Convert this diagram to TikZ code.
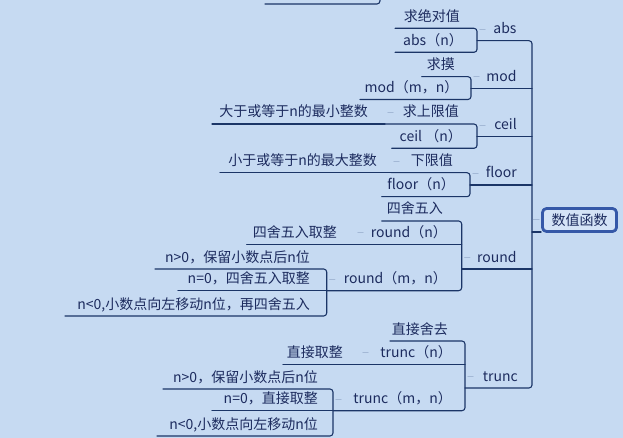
\documentclass[tikz,border=0pt]{standalone}
\usepackage{fontspec}
\setmainfont{Noto Sans CJK SC}
\definecolor{bgc}{HTML}{C6DAF2}
\definecolor{linec}{HTML}{1B3567}
\definecolor{textc}{HTML}{1C2B5E}
\definecolor{markc}{HTML}{A3B8D6}
\definecolor{rootc}{HTML}{3558A8}
\definecolor{rootf}{HTML}{D4E3F6}
\tikzset{
  ln/.style={draw=linec,line width=1.1pt,rounded corners=3pt},
  txt/.style={text=textc,inner sep=0pt,anchor=base east},
  mk/.style={draw=markc,line width=1.3pt},
  rootbox/.style={draw=rootc,fill=rootf,line width=2.8pt,rounded corners=4pt,text=textc,
    minimum width=74pt,minimum height=23pt,inner sep=0pt}
}
\begin{document}
\begin{tikzpicture}[x=1pt,y=-1pt,line join=round,line cap=round,font=\fontsize{14}{16}\selectfont]
		\fill[bgc] (0,0) rectangle (623,438);
		\useasboundingbox (0,0) rectangle (623,438);
		% name, left x, right x, line y, text right x, text
		\def\topic#1#2#3#4#5#6{%
		\coordinate (#1-l) at (#2,#4);
		\coordinate (#1-r) at (#3,#4);
		\node[txt] (#1) at (#5,#4-7) {#6};}
		% cut-off topic at the top
		\coordinate (top-l) at (265,4);
		\coordinate (top-r) at (380,4);
		\coordinate (top-u) at (380,-8);
		\draw[ln] (top-l) -- (top-r) -- (top-u);
		% abs
		\topic{jueduizhi}{395}{477}{28.3}{460}{求绝对值}
		\topic{absn}{395}{477}{52.3}{463}{abs（n）}
		\topic{abs}{477}{532}{40.7}{516.7}{abs}
		% mod
		\topic{qiumo}{421.7}{471}{76.7}{455}{求摸}
		\topic{modmn}{360}{471}{99.5}{458.5}{mod（m，n）}
		\topic{mod}{471}{532}{88.3}{516.7}{mod}
		% ceil
		\topic{dayu}{212}{385}{124}{368}{大于或等于n的最小整数}
		\topic{qiushang}{385}{477}{124}{459}{求上限值}
		\topic{ceiln}{391.7}{477}{148.3}{462}{ceil （n）}
		\topic{ceil}{477}{532}{136.7}{517}{ceil}
		% floor
		\topic{xiaoyu}{220}{391}{172.7}{377}{小于或等于n的最大整数}
		\topic{xiaxian}{391}{470}{172.7}{453}{下限值}
		\topic{floorn}{381.7}{470}{196.7}{455}{floor（n）}
		\topic{floor}{470}{532}{185}{517}{floor}
		% round
		\topic{sishe}{381.7}{461.7}{221}{443}{四舍五入}
		\topic{quzheng}{246.7}{355}{244.3}{337}{四舍五入取整}
		\topic{roundn}{355}{461.7}{244.3}{447}{round（n）}
		\topic{rgt}{155}{326.7}{269}{310}{n>0，保留小数点后n位}
		\topic{req}{178}{326.7}{290.7}{310}{n=0，四舍五入取整}
		\topic{rlt}{65}{326.7}{316}{310}{n<0,小数点向左移动n位，再四舍五入}
		\topic{roundmn}{326.7}{461.7}{290.7}{447}{round（m，n）}
		\topic{round}{461.7}{532}{269}{516.7}{round}
		% trunc
		\topic{shequ}{390}{465}{341}{448}{直接舍去}
		\topic{zhijie}{283}{360}{364.3}{343}{直接取整}
		\topic{truncn}{360}{465}{364.3}{452}{trunc（n）}
		\topic{tgt}{163}{333}{389}{318}{n>0，保留小数点后n位}
		\topic{teq}{212}{333}{410.7}{318}{n=0，直接取整}
		\topic{tlt}{157}{333}{436}{318}{n<0,小数点向左移动n位}
		\topic{truncmn}{333}{465}{410.7}{452}{trunc（m，n）}
		\topic{trunc}{465}{532}{388}{518}{trunc}
		% underlines and brackets
		\draw[ln] (abs-l) -- (abs-r) -- (trunc-r) -- (trunc-l);
		\draw[ln] (jueduizhi-l) -- (jueduizhi-r) -- (absn-r) -- (absn-l);
		\draw[ln] (qiumo-l) -- (qiumo-r) -- (modmn-r) -- (modmn-l);
		\draw[ln] (mod-l) -- (mod-r);
		\draw[ln] (dayu-l) -- (dayu-r);
		\draw[ln] (qiushang-l) -- (qiushang-r) -- (ceiln-r) -- (ceiln-l);
		\draw[ln] (ceil-l) -- (ceil-r);
		\draw[ln] (xiaoyu-l) -- (xiaoyu-r);
		\draw[ln] (xiaxian-l) -- (xiaxian-r) -- (floorn-r) -- (floorn-l);
		\draw[ln] (floor-l) -- (floor-r);
		\draw[ln] (sishe-l) -- (sishe-r) -- (roundmn-r) -- (roundmn-l);
		\draw[ln] (quzheng-l) -- (quzheng-r);
		\draw[ln] (roundn-l) -- (roundn-r);
		\draw[ln] (rgt-l) -- (rgt-r) -- (rlt-r) -- (rlt-l);
		\draw[ln] (req-l) -- (req-r);
		\draw[ln] (round-l) -- (round-r);
		\draw[ln] (shequ-l) -- (shequ-r) -- (truncmn-r) -- (truncmn-l);
		\draw[ln] (zhijie-l) -- (zhijie-r);
		\draw[ln] (truncn-l) -- (truncn-r);
		\draw[ln] (tgt-l) -- (tgt-r) -- (tlt-r) -- (tlt-l);
		\draw[ln] (teq-l) -- (teq-r);
		% collapse marks
		\foreach \n in {abs,mod,ceil,floor,round,trunc,qiushang,xiaxian,roundn,roundmn,truncn,truncmn}
		\draw[mk] ([shift={(3,-11.5)}]\n-l) -- ++(5,0);
		% central topic
		\coordinate (root-in) at (532,232);
		\node[rootbox] (root) at (579.5,220) {数值函数};
		\draw[ln] (root-in) -- (root-in -| root.west);
		\draw[mk] ([shift={(1.5,-12.5)}]root-in) -- ++(5.5,0);
\end{tikzpicture}
\end{document}
